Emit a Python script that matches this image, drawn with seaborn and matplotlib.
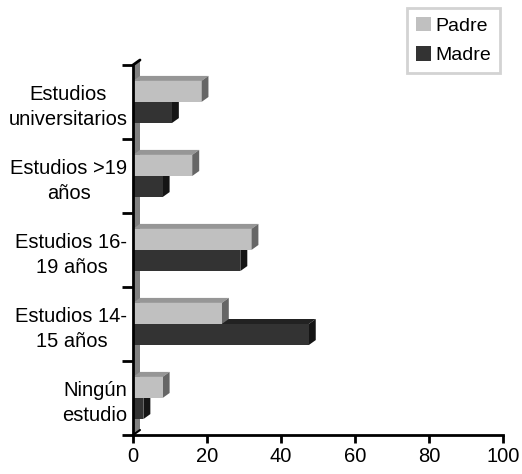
import pandas as pd
import matplotlib
matplotlib.use("Agg")
import matplotlib.pyplot as plt
import seaborn as sns
from matplotlib.patches import Polygon, Patch

categorias = ["Estudios\nuniversitarios", "Estudios >19\naños", "Estudios 16-\n19 años",
              "Estudios 14-\n15 años", "Ningún\nestudio"]
padre = [18.5, 16, 32, 24, 8]
madre = [10.5, 8, 29, 47.5, 2.8]
series = ["Padre", "Madre"]
colores = {"Padre": "#c0c0c0", "Madre": "#333333"}
top_col = {"Padre": "#969696", "Madre": "#222222"}
side_col = {"Padre": "#666666", "Madre": "#151515"}

df = pd.DataFrame({"cat": categorias * 2,
                   "valor": padre + madre,
                   "serie": ["Padre"] * 5 + ["Madre"] * 5})

sns.set_style("white")
plt.rcParams['font.family'] = ['Liberation Sans', 'DejaVu Sans']
plt.rcParams['text.color'] = 'black'

fig = plt.figure(figsize=(5.22, 4.74), dpi=100)
ax = fig.add_axes([133 / 522, 39 / 474, 370 / 522, 370 / 474])

sns.barplot(data=df, x="valor", y="cat", hue="serie", orient="h", palette=colores,
            width=0.57, saturation=1, linewidth=0, legend=False, ax=ax, zorder=3)

ax.set_xlim(0, 100)
ax.set_ylim(4.5, -0.5)
DX = 7 / 3.7
DY = 5 / 74

# 3D faces: draw Madre first so Padre's side face sits on top
bars = list(ax.patches)
n = len(categorias)
orden = [("Madre", bars[n:]), ("Padre", bars[:n])]
for serie, ps in orden:
    for p in ps:
        x0 = p.get_x()
        x1 = x0 + p.get_width()
        ytop = p.get_y()
        ybot = ytop + p.get_height()
        ax.add_patch(Polygon([(x0, ytop), (x1, ytop), (x1 + DX, ytop - DY), (x0 + DX, ytop - DY)],
                             closed=True, facecolor=top_col[serie], edgecolor="none", zorder=2))
        ax.add_patch(Polygon([(x1, ytop), (x1, ybot), (x1 + DX, ybot - DY), (x1 + DX, ytop - DY)],
                             closed=True, facecolor=side_col[serie], edgecolor="none", zorder=2))

# side wall
ax.add_patch(Polygon([(0, 4.5), (0, -0.5), (DX, -0.5 - DY), (DX, 4.5 - DY)], closed=True,
                     facecolor="#808080", edgecolor="none", zorder=1, clip_on=False))
ax.plot([0, DX], [-0.5, -0.5 - DY], color="black", lw=2, zorder=4, clip_on=False)
ax.plot([0, DX], [4.5, 4.5 - DY], color="black", lw=1.5, zorder=4, clip_on=False)

ax.set_xticks([0, 20, 40, 60, 80, 100])
ax.set_yticks(range(n))
ax.set_yticklabels(categorias)
ax.set_yticks([i - 0.5 for i in range(n + 1)], minor=True)
ax.tick_params(axis="y", which="major", length=0, pad=4, labelsize=14.5, labelcolor="black")
ax.tick_params(axis="y", which="minor", length=8, width=2, color="black", left=True)
ax.tick_params(axis="x", length=6, width=2, color="black", bottom=True, labelsize=14.5, pad=3,
               labelcolor="black")
for t in ax.get_yticklabels():
    t.set_multialignment("center")
    t.set_linespacing(1.4)
ax.set_xlabel("")
ax.set_ylabel("")
sns.despine(ax=ax)
for s in ["left", "bottom"]:
    ax.spines[s].set_linewidth(2)
    ax.spines[s].set_color("black")
    ax.spines[s].set_zorder(5)

handles = [Patch(facecolor=colores[s], edgecolor="none", label=s) for s in series]
leg = fig.legend(handles=handles, loc="upper right", bbox_to_anchor=(500 / 522, 1 - 8 / 474),
                 fontsize=14, frameon=True, fancybox=False, handlelength=0.75, handleheight=0.75,
                 handletextpad=0.25, borderpad=0.45, labelspacing=0.6, borderaxespad=0,
                 labelcolor="black")
leg.get_frame().set_edgecolor("#c8c8c8")
leg.get_frame().set_linewidth(2)

fig.savefig("out.png", dpi=100)
